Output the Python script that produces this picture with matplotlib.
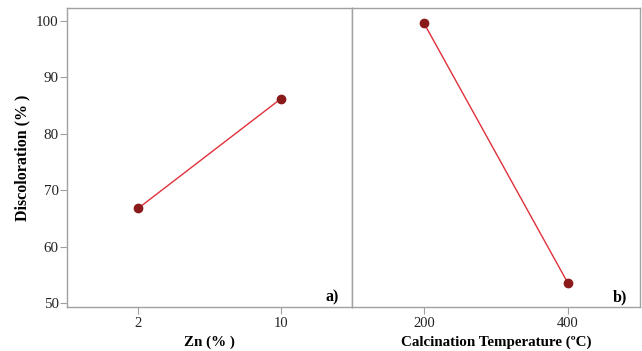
import matplotlib.pyplot as plt

# valores
zn_niveis = [2, 10]
zn_descoloracao = [66.8, 86.2]
temp_niveis = [200, 400]
temp_descoloracao = [99.6, 53.5]
y_ticks = [50, 60, 70, 80, 90, 100]

plt.rcParams['font.family'] = ['Liberation Serif', 'DejaVu Serif']

cor_linha = '#e0303a'
cor_marcador = '#8b1a1a'
cor_eixo = '#a0a0a0'
cor_texto = '#222222'

fig = plt.figure(figsize=(6.42, 3.51), dpi=100)
ax1 = fig.add_axes([0.1044, 0.1254, 0.4439, 0.8518])
ax2 = fig.add_axes([0.5483, 0.1254, 0.4486, 0.8518], sharey=ax1)


def desenha(ax, x, y, rotulo, letra):
    ax.plot(x, y, color=cor_linha, linewidth=1.0, zorder=2)
    ax.plot(x, y, 'o', color=cor_marcador, markersize=6, zorder=3)
    ax.set_xticks(x)
    ax.set_xticklabels([str(v) for v in x], fontsize=10.5)
    ax.set_xlabel(rotulo, fontsize=10.8, fontweight='bold', labelpad=4)
    ax.text(0.955, 0.005, letra, transform=ax.transAxes, ha='right', va='bottom',
            fontsize=11.5, fontweight='bold')
    for s in ax.spines.values():
        s.set_color(cor_eixo)
        s.set_linewidth(1.0)
    ax.tick_params(axis='both', colors=cor_eixo, length=5, pad=2, labelcolor=cor_texto)


desenha(ax1, zn_niveis, zn_descoloracao, 'Zn (% )', 'a)')
desenha(ax2, temp_niveis, temp_descoloracao, 'Calcination Temperature (ºC)', 'b)')

ax1.set_xlim(-2, 14)
ax2.set_xlim(100, 500)
ax1.set_ylim(49.3, 102.3)
ax1.set_yticks(y_ticks)
ax1.set_yticklabels([str(v) for v in y_ticks], fontsize=10.8)
ax1.tick_params(axis='y', pad=1)
ax1.set_ylabel('Discoloration (% )', fontsize=11.5, fontweight='bold', labelpad=4)
ax2.tick_params(axis='y', left=False, labelleft=False)

fig.savefig('out.png', dpi=100)
